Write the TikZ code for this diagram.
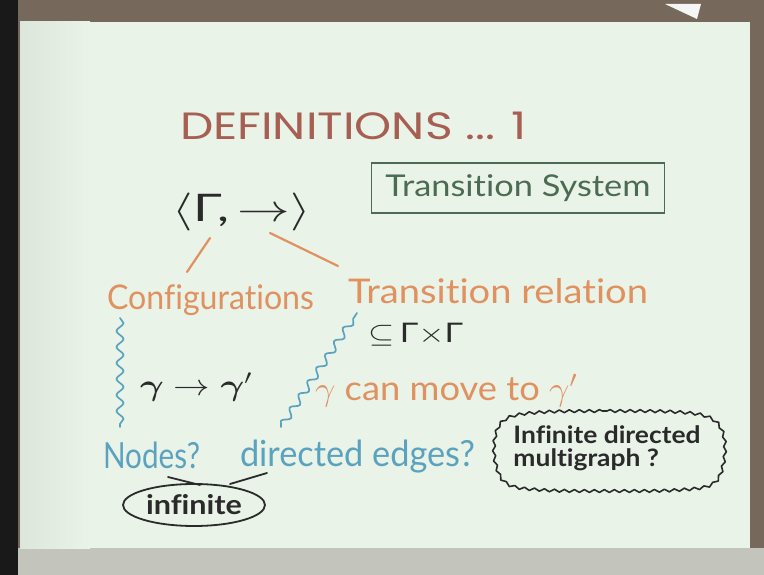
\RequirePackage{fix-cm}
\documentclass[tikz,border=0pt]{standalone}
\usepackage{amsmath}
\usepackage{fontspec}
\setmainfont{Lato}[Ligatures=NoCommon]
\newfontfamily\titlefont{Poppins}
\usepackage{graphicx}
\usetikzlibrary{decorations.pathmorphing,shapes.geometric,calc}
\definecolor{board}{HTML}{E9F3E8}
\definecolor{boardedge}{HTML}{DCE6DA}
\definecolor{wood}{HTML}{76685A}
\definecolor{floorgray}{HTML}{C3C4BC}
\definecolor{titlered}{HTML}{A65F52}
\definecolor{chalkorange}{HTML}{E0915F}
\definecolor{chalkblue}{HTML}{5AA2BE}
\definecolor{boxgreen}{HTML}{4B6B52}
\definecolor{ink}{HTML}{2A2A2A}
\newcommand\fitw[2]{\resizebox{#1}{\height}{#2}}
\newcommand\fs[1]{\fontsize{#1}{#1}\selectfont}
\tikzset{
  txt/.style={inner sep=0pt, outer sep=0pt},
  orangetxt/.style={txt, text=chalkorange},
  bluetxt/.style={txt, text=chalkblue},
  inktxt/.style={txt, text=ink},
  orangeline/.style={draw=chalkorange, line width=2.2pt, line cap=round},
  inkline/.style={draw=ink, line width=1.8pt, line cap=round},
  wavy/.style={draw=chalkblue, line width=1.7pt, line cap=round,
    decorate, decoration={snake, amplitude=3.5pt, segment length=16pt}},
  cloudline/.style={draw=ink, line width=1.6pt, line join=round,
    decorate, decoration={snake, amplitude=1.4pt, segment length=10pt}},
}
\begin{document}
\begin{tikzpicture}[x=1pt,y=-1pt]
\useasboundingbox (0,0) rectangle (764,575);
% frame and board
\fill[wood] (0,0) rectangle (764,575);
\fill[black!90] (0,0) rectangle (18,575);
\fill[floorgray] (18,548) rectangle (764,575);
\shade[left color=boardedge, right color=board] (20,22) rectangle (90,548);
\fill[board] (89,22) rectangle (750,548);
\fill[white!92!gray] (665,4) -- (701,4) -- (697,19) -- cycle;
% title
\node[txt, anchor=base west, text=titlered, font=\fs{38}\titlefont] (title) at (180,140)
  {\fitw{347pt}{DEFINITIONS ... 1}};
% box
\node[draw=boxgreen, line width=1.4pt, minimum width=293pt, minimum height=50pt,
  inner sep=0pt, text=boxgreen, font=\fs{30}] (ts) at (518,188)
  {\fitw{265pt}{Transition System}};
% tuple
\node[inktxt, anchor=center, font=\fs{38}] (tuple) at (242,212)
  {\fitw{138pt}{$\langle$Γ,\,$\rightarrow\rangle$}};
\coordinate (gam) at (210,238);
\coordinate (arr) at (270,233);
% labels
\node[orangetxt, anchor=base west, font=\fs{34}] (conf) at (107,309)
  {\fitw{207pt}{Configurations}};
\node[orangetxt, anchor=base west, font=\fs{34}] (trel) at (348,303)
  {\fitw{300pt}{Transition relation}};
\coordinate (confTop) at (187,272);
\coordinate (trelTop) at (338,266);
\draw[orangeline] (gam) -- (confTop);
\draw[orangeline] (arr) -- (trelTop);
% subset
\node[inktxt, anchor=base west, font=\fs{27}] (sub) at (368,342)
  {\fitw{95pt}{$\subseteq$\,Γ$\times$Γ}};
% gamma -> gamma'
\node[inktxt, anchor=base west, font=\fs{30}] (gg) at (140,395)
  {\fitw{112pt}{$\boldsymbol{\gamma}\rightarrow\boldsymbol{\gamma}'$}};
\node[orangetxt, anchor=base west, font=\fs{34}] (move) at (315,400)
  {\fitw{262pt}{$\gamma$ can move to $\gamma'$}};
% wavy lines
\coordinate (wl1) at (120,318);
\coordinate (wl2) at (120,427);
\coordinate (wd1) at (281,427);
\coordinate (wd2) at (357,313);
\draw[wavy] (wl1) -- (wl2);
\draw[wavy] (wd1) -- (wd2);
% nodes / edges
\node[bluetxt, anchor=base west, font=\fs{36}] (nodes) at (103,468)
  {\fitw{97pt}{Nodes?}};
\node[bluetxt, anchor=base west, font=\fs{36}] (edges) at (240,466)
  {\fitw{235pt}{directed edges?}};
% infinite
\node[ellipse, draw=ink, line width=1.8pt, minimum width=142pt, minimum height=42pt,
  inner sep=0pt, text=ink, font=\fs{27}\bfseries] (inf) at (194,505)
  {\fitw{96pt}{infinite}};
\coordinate (n1) at (168,477);
\coordinate (n2) at (200,485);
\coordinate (e1) at (267,473);
\coordinate (e2) at (230,484);
\draw[inkline] (n1) -- (n2);
\draw[inkline] (e1) -- (e2);
% cloud
\node[inktxt, anchor=center, font=\fs{24}\bfseries] (cl) at (607,450)
  {\fitw{187pt}{\begin{tabular}{@{}l@{}}Infinite directed\\[-2pt]multigraph ?\end{tabular}}};
\draw[cloudline] plot[smooth cycle, tension=0.6] coordinates {
  (540,412) (607,411) (675,412) (708,418) (721,435) (721,463) (710,484)
  (675,490) (607,491) (540,490) (505,484) (493,463) (493,435) (505,418)};
\end{tikzpicture}
\end{document}
